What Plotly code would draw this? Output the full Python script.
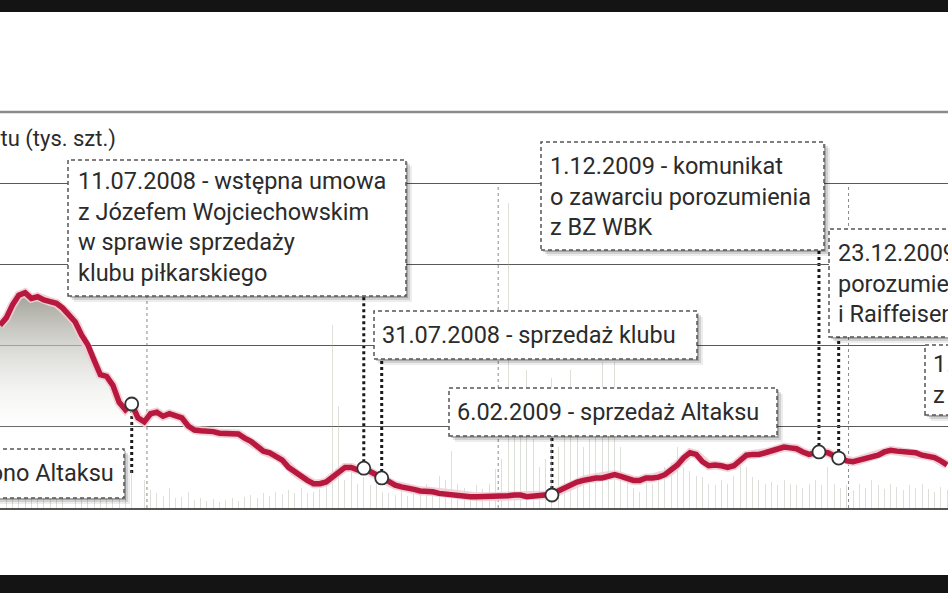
import plotly.graph_objects as go
import pandas as pd

# ---------------- data ----------------
week_dates = pd.date_range("2007-06-01", periods=152, freq="7D")

price = [
    22.5, 23.4, 25.0, 26.2, 26.5, 25.8, 26.0, 25.6, 25.4, 25.2,
    24.6, 23.8, 22.9, 21.3, 20.1, 18.2, 16.4, 16.2, 15.1, 13.0,
    12.1, 12.8, 11.1, 10.6, 11.6, 11.8, 11.3, 11.6, 11.3, 11.1,
    10.1, 9.6, 9.5, 9.5, 9.4, 9.2, 9.2, 9.1, 9.1, 8.6,
    8.2, 7.6, 7.0, 6.8, 6.4, 5.9, 5.0, 4.4, 3.9, 3.4,
    3.0, 3.0, 3.2, 3.8, 4.4, 5.0, 5.0, 4.7, 4.9, 4.4,
    4.1, 3.7, 3.2, 2.8, 2.6, 2.5, 2.3, 2.1, 2.1, 2.0,
    1.8, 1.7, 1.6, 1.5, 1.5, 1.4, 1.4, 1.4, 1.4, 1.4,
    1.4, 1.5, 1.6, 1.6, 1.4, 1.5, 1.5, 1.6, 1.7, 2.1,
    2.5, 2.8, 3.2, 3.4, 3.6, 3.7, 3.7, 3.9, 4.1, 3.9,
    3.6, 3.4, 3.4, 3.7, 3.7, 3.8, 4.1, 4.6, 5.3, 6.2,
    6.8, 6.6, 5.7, 5.2, 5.3, 5.2, 5.0, 5.2, 5.9, 6.5,
    6.6, 6.6, 6.8, 7.0, 7.3, 7.5, 7.4, 7.3, 6.9, 6.6,
    6.8, 6.9, 6.8, 6.4, 6.2, 5.8, 5.7, 5.9, 6.2, 6.4,
    6.5, 6.9, 7.1, 7.0, 6.9, 6.8, 6.8, 6.5, 6.4, 6.2,
    5.8, 5.3,
]

volume = [  # tys. szt.
    40, 35, 55, 45, 30, 38, 42, 28, 33, 50,
    36, 30, 44, 60, 52, 48, 70, 55, 40, 65,
    50, 45, 30, 35, 22, 18, 15, 25, 12, 14,
    20, 10, 12, 9, 11, 8, 10, 12, 9, 14,
    16, 12, 18, 15, 20, 17, 22, 19, 25, 18,
    20, 24, 30, 225, 125, 35, 45, 30, 38, 28,
    34, 20, 18, 16, 22, 15, 18, 25, 30, 22,
    40, 35, 70, 30, 25, 20, 28, 24, 30, 48,
    60, 375, 150, 110, 170, 85, 50, 60, 160, 75,
    125, 170, 135, 75, 85, 120, 180, 110, 180, 75,
    40, 25, 20, 35, 30, 45, 50, 55, 75, 50,
    45, 40, 38, 30, 28, 35, 30, 40, 55, 50,
    38, 35, 30, 32, 28, 35, 30, 28, 25, 30,
    35, 28, 50, 30, 25, 28, 22, 30, 25, 35,
    28, 24, 30, 26, 22, 28, 25, 30, 24, 20,
    26, 22,
]

event_dates = ["2007-10-26", "2008-07-11", "2008-07-31", "2009-02-06", "2009-12-01", "2009-12-23"]
event_price = [12.8, 4.9, 3.7, 1.6, 6.9, 6.15]
year_marks = ["2007-11-12", "2008-12-08", "2010-01-03"]

label_texts = [
    "26.10.2007 - wydzielono Altaksu",
    "11.07.2008 - wstępna umowa<br>z Józefem Wojciechowskim<br>w sprawie sprzedaży<br>klubu piłkarskiego",
    "31.07.2008 - sprzedaż klubu",
    "6.02.2009 - sprzedaż Altaksu",
    "1.12.2009 - komunikat<br>o zawarciu porozumienia<br>z BZ WBK",
    "23.12.2009 - podpisanie<br>porozumienia z PKO BP<br>i Raiffeisen Bankiem",
]
extra_label = "1.02.2010 - porozumienie<br>z pozostałymi bankami"
axis_title = "Wolumen obrotu (tys. szt.)"

# ---------------- layout constants ----------------
W, H = 948, 593
TOP, BASE = 112, 508
PRICE_MAX = 48.74
VOL_MAX = 487.4
X_RANGE = ["2007-06-01", "2010-04-24"]
FONT = "Roboto, 'Liberation Sans', 'DejaVu Sans', sans-serif"
TXT = "#2b2b2b"
FS = 23.5


def px_x(px):
    return px / W


def px_y(py):
    return (BASE - py) / (BASE - TOP)


def price_at(py):
    return (BASE - py) / (BASE - TOP) * PRICE_MAX


# box geometry (pixels): x0, x1, y0, y1, text_x, text_cy, anchor
boxes = [
    (-200, 124, 449, 498, 116, 473, "right"),
    (68, 406, 160, 296, 76, 227, "left"),
    (374, 697, 311, 359, 380, 335, "left"),
    (449, 777, 388, 436, 455, 412, "left"),
    (541, 824, 142, 250, 548, 196, "left"),
    (829, 1110, 229, 337, 836, 283, "left"),
]
extra_box = (925, 1200, 345, 415, 931, 380, "left")
leader_ends = [476, 296, 359, 436, 250, 337]

fig = go.Figure()

fig.add_trace(go.Bar(
    x=week_dates, y=volume, yaxis="y",
    width=1.1 * 86400000,
    marker=dict(color="rgba(165,170,155,0.38)", line=dict(width=0)),
    hoverinfo="skip",
))

fig.add_trace(go.Scatter(
    x=week_dates[:22], y=price[:22], yaxis="y2", mode="none", fill="tozeroy",
    fillgradient=dict(type="vertical", start=8, stop=26,
                      colorscale=[[0, "rgba(255,255,255,0)"], [1, "rgba(165,165,155,1)"]]),
    hoverinfo="skip",
))

fig.add_trace(go.Scatter(
    x=week_dates, y=price, yaxis="y2", mode="lines",
    line=dict(color="rgba(240,205,212,0.9)", width=9),
    hoverinfo="skip",
))
fig.add_trace(go.Scatter(
    x=week_dates, y=price, yaxis="y2", mode="lines",
    line=dict(color="#b8173e", width=5.5),
))
fig.add_trace(go.Scatter(
    x=event_dates, y=event_price, yaxis="y2", mode="markers",
    marker=dict(size=13, color="white", line=dict(color="#333", width=1.8)),
))

shapes = []
# black bands
shapes.append(dict(type="rect", xref="paper", yref="paper", x0=-0.02, x1=1.02,
                   y0=px_y(12), y1=px_y(-5), fillcolor="#141414", line=dict(width=0)))
shapes.append(dict(type="rect", xref="paper", yref="paper", x0=-0.02, x1=1.02,
                   y0=px_y(600), y1=px_y(575), fillcolor="#141414", line=dict(width=0)))
# top frame line
shapes.append(dict(type="line", xref="paper", yref="paper", x0=0, x1=1, y0=1, y1=1,
                   line=dict(color="#8a8a8a", width=2.5)))
# vertical dotted year marks
for d in year_marks:
    shapes.append(dict(type="line", xref="x", yref="y", x0=d, x1=d, y0=0, y1=400,
                       line=dict(color="#8a8a8a", width=1, dash="dot"), layer="below"))
# leaders
for d, p, end in zip(event_dates, event_price, leader_ends):
    shapes.append(dict(type="line", xref="x", yref="y2", x0=d, x1=d, y0=p, y1=price_at(end),
                       line=dict(color="#1a1a1a", width=3, dash="dot"), layer="below"))

annotations = []


def add_box(b, text):
    x0, x1, y0, y1, tx, cy, anchor = b
    for k, a in [(2, 0.20), (4, 0.12), (6, 0.07)]:
        shapes.append(dict(type="rect", xref="paper", yref="paper",
                           x0=px_x(x0 + k), x1=px_x(x1 + k), y0=px_y(y1 + k), y1=px_y(y0 + k),
                           fillcolor=f"rgba(0,0,0,{a})", line=dict(width=0)))
    shapes.append(dict(type="rect", xref="paper", yref="paper",
                       x0=px_x(x0), x1=px_x(x1), y0=px_y(y1), y1=px_y(y0),
                       fillcolor="white", line=dict(color="#555", width=1.5, dash="4px,3px")))
    annotations.append(dict(xref="paper", yref="paper", x=px_x(tx), y=px_y(cy),
                            xanchor=anchor, yanchor="middle", align=anchor, showarrow=False,
                            text=text, font=dict(family=FONT, size=FS, color=TXT)))


for b, t in zip(boxes, label_texts):
    add_box(b, t)
add_box(extra_box, extra_label)

annotations.append(dict(xref="paper", yref="paper", x=px_x(118), y=px_y(139),
                        xanchor="right", yanchor="middle", showarrow=False,
                        text=axis_title, font=dict(family=FONT, size=22, color=TXT)))

fig.update_layout(
    width=W, height=H,
    margin=dict(l=0, r=0, t=TOP, b=H - BASE, pad=0),
    paper_bgcolor="white", plot_bgcolor="white",
    showlegend=False,
    bargap=0,
    xaxis=dict(type="date", range=X_RANGE, showgrid=False, showticklabels=False, ticks="",
               showline=True, linecolor="#555", linewidth=2, zeroline=False),
    yaxis=dict(range=[0, VOL_MAX], tick0=0, dtick=100, showgrid=True, gridcolor="#5a5a5a",
               gridwidth=1.3, showticklabels=False, ticks="", zeroline=False, showline=False),
    yaxis2=dict(range=[0, PRICE_MAX], overlaying="y", showgrid=False, showticklabels=False,
                ticks="", zeroline=False, showline=False),
    shapes=shapes,
    annotations=annotations,
)

fig.write_html("out.html", config={"displayModeBar": False},
               post_script="document.body.style.margin='0';")
